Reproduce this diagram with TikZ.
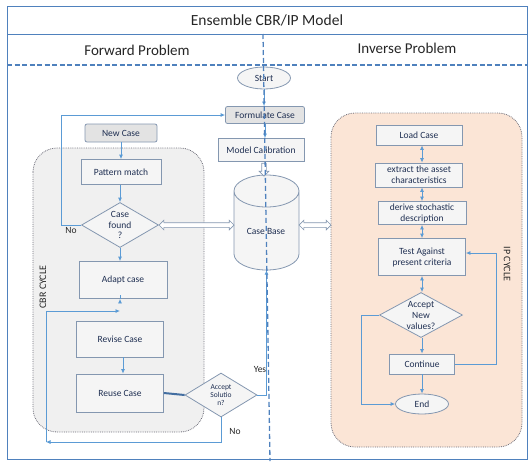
\documentclass[tikz,border=0pt]{standalone}
\usepackage{fontspec}
\setmainfont{Carlito}
\usetikzlibrary{arrows.meta,shapes.geometric,shapes.arrows,calc}
\definecolor{lnblue}{HTML}{5B9BD5}
\definecolor{frblue}{HTML}{4F81BD}
\definecolor{boxc}{HTML}{8497B0}
\definecolor{txt}{HTML}{1F2F52}
\definecolor{gfill}{HTML}{E3E3E3}
\definecolor{wfill}{HTML}{F5F5F5}
\definecolor{cbrfill}{HTML}{F0F0F0}
\definecolor{ipfill}{HTML}{FBE5D6}
\definecolor{regionc}{HTML}{6E6E7A}
\begin{document}
\begin{tikzpicture}[x=1pt,y=-1pt,
  box/.style={draw=boxc, line width=0.8pt, fill=wfill, text=txt, font=\fontsize{9.5}{11}\selectfont, inner sep=1pt, align=center},
  gbox/.style={box, fill=gfill, rounded corners=2pt},
  dia/.style={box, diamond, inner sep=0pt},
  ell/.style={box, ellipse, inner sep=0pt},
  arr/.style={draw=lnblue, line width=0.8pt, -{Latex[length=4.5pt,width=4pt]}},
  darr/.style={draw=lnblue, line width=0.8pt, {Latex[length=4.5pt,width=4pt]}-{Latex[length=4.5pt,width=4pt]}},
  hollow/.style={draw=boxc, fill=white, line width=0.7pt, inner sep=2pt},
  region/.style={draw=regionc, densely dotted, line width=0.8pt, rounded corners=24pt},
  lbl/.style={text=black!85, font=\fontsize{9.5}{10}\selectfont, inner sep=0pt}
]
\useasboundingbox (0,0) rectangle (529,461);
% frame
\draw[frblue, line width=1pt] (7,6) rectangle (527,459);
\draw[frblue, line width=1pt] (7,34) -- (527,34);
\draw[frblue, line width=1.5pt, dash pattern=on 5pt off 2.5pt] (7,65) -- (527,65);
\node[text=black!85, font=\fontsize{15.5}{18}\selectfont] (title) at (267,20) {Ensemble CBR/IP Model};
\node[text=black!85, font=\fontsize{15}{18}\selectfont] (fwd) at (137,50) {Forward Problem};
\node[text=black!85, font=\fontsize{15}{18}\selectfont] (inv) at (407,48) {Inverse Problem};

% regions
\draw[region, fill=cbrfill] (33,148) rectangle (204,432);
\draw[region, fill=ipfill] (331,113) rectangle (522,447);
\node[lbl, rotate=90, font=\fontsize{10}{10}\selectfont] (cbrlab) at (43,287) {CBR CYCLE};
\node[lbl, rotate=-90, font=\fontsize{10}{10}\selectfont] (iplab) at (507,264) {IP CYCLE};

% center column
\node[ell, minimum width=53pt, minimum height=22pt] (start) at (264,78) {Start};
\node[gbox, minimum width=79pt, minimum height=17pt] (formulate) at (265,115) {Formulate Case};
\node[box, minimum width=86pt, minimum height=23pt] (modelcal) at (261,150) {Model Calibration};
% cylinder
\fill[wfill] (234,191) -- (234,254) arc[start angle=180,end angle=360,x radius=32.5pt,y radius=16pt] -- (299,191) arc[start angle=0,end angle=180,x radius=32.5pt,y radius=16pt] -- cycle;
\draw[boxc, line width=0.8pt] (234,191) -- (234,254) arc[start angle=180,end angle=360,x radius=32.5pt,y radius=16pt] -- (299,191) arc[start angle=0,end angle=180,x radius=32.5pt,y radius=16pt] arc[start angle=180,end angle=360,x radius=32.5pt,y radius=16pt];
\node[minimum width=65pt, minimum height=95pt, inner sep=0pt] (cb) at (266.5,222.5) {};
\node[text=txt, font=\fontsize{9.5}{11}\selectfont, inner sep=0pt] (cblab) at (266,231) {Case Base};

% left column
\node[gbox, minimum width=72pt, minimum height=18pt] (newcase) at (121,133) {New Case};
\node[box, minimum width=80pt, minimum height=25pt] (pattern) at (121,172) {Pattern match};
\node[dia, minimum width=77pt, minimum height=45pt, aspect=1.7, font=\fontsize{9.5}{10.5}\selectfont] (casefound) at (120,225) {Case\\found\\?};
\node[box, minimum width=88pt, minimum height=37pt] (adapt) at (123,280) {Adapt case};
\node[box, minimum width=87pt, minimum height=36pt] (revise) at (120,339) {Revise Case};
\node[box, minimum width=87pt, minimum height=38pt] (reuse) at (120,393) {Reuse Case};
\node[dia, minimum width=72pt, minimum height=44pt, aspect=1.65, font=\fontsize{7.5}{8}\selectfont] (accsol) at (221,395) {Accept\\Solutio\\n?};

% right column
\node[box, minimum width=86pt, minimum height=20pt] (loadcase) at (419,135) {Load Case};
\node[box, minimum width=87pt, minimum height=24pt] (extract) at (419,175) {extract the asset\\characteristics};
\node[box, minimum width=88pt, minimum height=23pt] (derive) at (422,213) {derive stochastic\\description};
\node[box, minimum width=87pt, minimum height=37pt] (test) at (422,257) {Test Against\\present criteria};
\node[dia, minimum width=83pt, minimum height=45pt, aspect=1.8] (accnew) at (421,315) {Accept\\New\\values?};
\node[box, minimum width=65pt, minimum height=20pt] (continue) at (422,364) {Continue};
\node[ell, minimum width=53pt, minimum height=20pt] (end) at (422,404) {End};

% connectors left
\draw[arr] (newcase.south) -- (pattern.north);
\draw[arr] (pattern.south -| casefound.north) -- (casefound.north);
\draw[arr] (casefound.south) -- (casefound.south |- adapt.north);
\draw[arr] (adapt.south -| casefound.south) -- (adapt.south -| casefound.south |- revise.north);
\coordinate (rx) at (123,0);
\draw[arr] (revise.south -| rx) -- (reuse.north -| rx);
\draw[arr] (casefound.west) -- ++(-20,0) |- (formulate.west);
\node[lbl] (nolab1) at (71,230) {No};
\draw[line width=2pt, draw=frblue!85!black] (reuse.east) -- (accsol.west);
\draw[arr] (accsol.east) -| (cb.south);
\node[lbl] (yeslab) at (260,369) {Yes};
\coordinate (nocorner) at (46,442);
\coordinate (join) at (120,311);
\draw[arr] (accsol.south) |- (nocorner);
\draw[arr] (nocorner) |- (join);
\node[lbl] (nolab2) at (235,431) {No};

% connectors center
\draw[arr] (start.south) -- (start.south |- formulate.north);
\draw[arr] (formulate.south) -- (formulate.south |- modelcal.north);
\node[hollow, single arrow, rotate=270, minimum height=13pt, single arrow head extend=2.5pt] (calarr) at (264,168.5) {};
\node[hollow, double arrow, minimum height=75pt, double arrow head extend=2.5pt] (hleft) at (196.5,225) {};
\node[hollow, double arrow, minimum height=32pt, double arrow head extend=2.5pt] (hright) at (315,225) {};

% connectors right
\coordinate (ipx) at (422,0);
\draw[darr] (loadcase.south -| ipx) -- (extract.north -| ipx);
\draw[darr] (extract.south -| ipx) -- (derive.north -| ipx);
\draw[darr] (derive.south -| ipx) -- (test.north -| ipx);
\draw[darr] (test.south -| ipx) -- (accnew.north -| ipx);
\draw[arr] (accnew.south -| ipx) -- (continue.north -| ipx);
\draw[arr] (continue.south -| ipx) -- (end.north -| ipx);
\draw[arr] (accnew.west) -- ++(-18,0) |- (end.west);
\draw[arr] (continue.east) -- ++(41,0) |- ($(test.east)+(0,-4)$);

% vertical dashed separator
\draw[frblue, line width=1.3pt, dash pattern=on 5pt off 3pt] (263,34) -- (270,461);
\end{tikzpicture}
\end{document}
